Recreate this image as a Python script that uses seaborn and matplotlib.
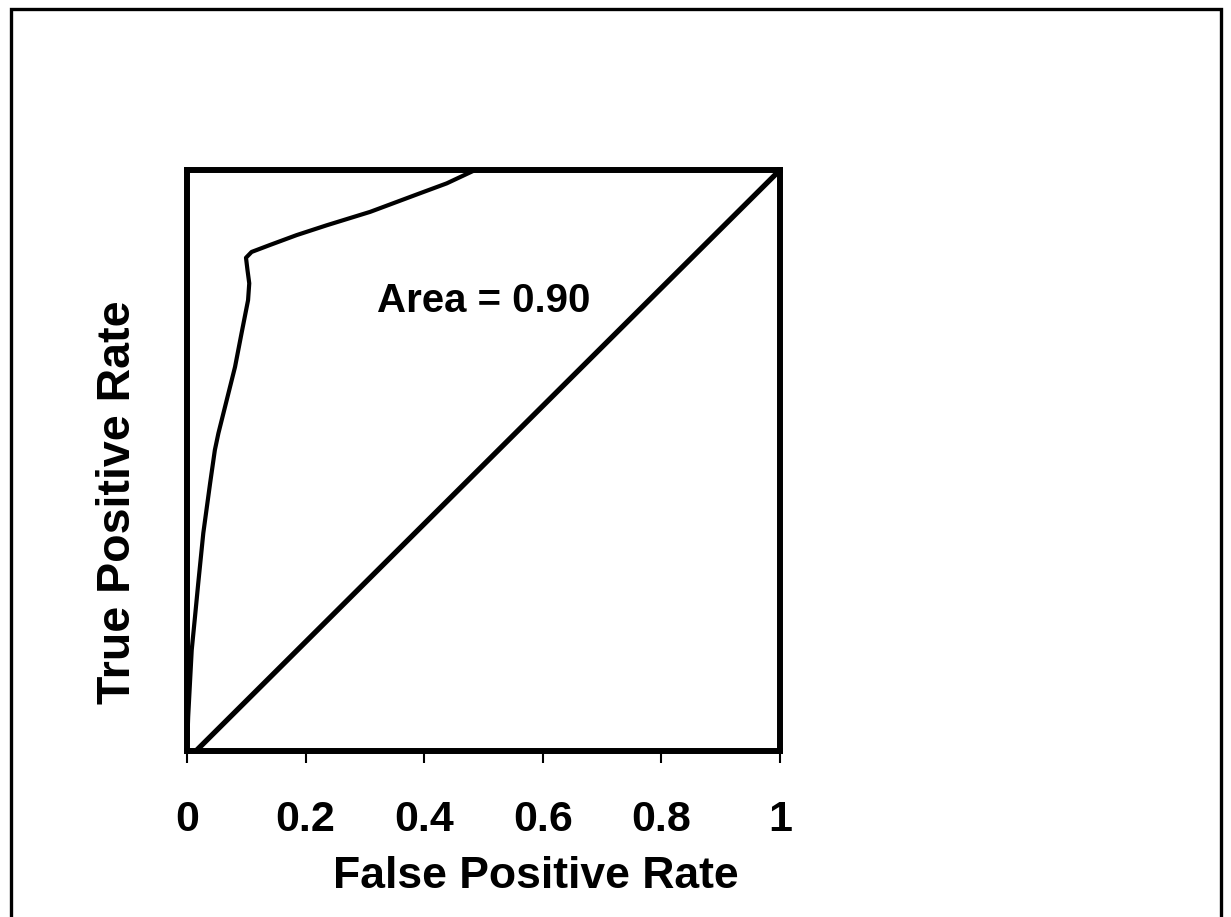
import matplotlib
matplotlib.use("Agg")
import matplotlib.pyplot as plt
import seaborn as sns
import pandas as pd
from matplotlib.patches import Rectangle

# ROC curve
fpr = [0.0, 0.002, 0.005, 0.008, 0.0135, 0.019, 0.0275, 0.039, 0.047, 0.053,
       0.067, 0.081, 0.092, 0.103, 0.105, 0.102, 0.0995, 0.109, 0.140, 0.185,
       0.236, 0.309, 0.393, 0.438, 0.486, 1.0]
tpr = [0.0, 0.059, 0.117, 0.174, 0.231, 0.289, 0.375, 0.461, 0.518, 0.547,
       0.604, 0.661, 0.719, 0.776, 0.805, 0.828, 0.849, 0.859, 0.871, 0.888,
       0.905, 0.928, 0.960, 0.977, 1.0, 1.0]

# chance (diagonal) line
diag_x = [0.015, 1.0]
diag_y = [0.0, 1.0]

xticks = [0, 0.2, 0.4, 0.6, 0.8, 1.0]
xtick_labels = ["0", "0.2", "0.4", "0.6", "0.8", "1"]
area_text = "Area = 0.90"

sns.set_theme(style="white")
plt.rcParams['font.family'] = ['Liberation Sans', 'DejaVu Sans']
plt.rcParams['font.weight'] = 'bold'
plt.rcParams['text.color'] = 'black'
plt.rcParams['axes.labelcolor'] = 'black'
plt.rcParams['xtick.color'] = 'black'
plt.rcParams['ytick.color'] = 'black'

fig = plt.figure(figsize=(12.31, 9.17), dpi=100)
ax = fig.add_axes([0.1519, 0.1810, 0.4817, 0.6336])

roc = pd.DataFrame({"fpr": fpr, "tpr": tpr})
dg = pd.DataFrame({"x": diag_x, "y": diag_y})
sns.lineplot(data=roc, x="fpr", y="tpr", sort=False, color="black", lw=3.0, ax=ax,
             solid_joinstyle="round")
sns.lineplot(data=dg, x="x", y="y", sort=False, color="black", lw=3.8, ax=ax)

ax.set_xlim(0, 1)
ax.set_ylim(0, 1)
ax.set_xticks(xticks)
ax.set_xticklabels(xtick_labels, fontsize=31, fontweight="bold", color="black")
ax.set_yticks([])
ax.tick_params(axis="x", direction="out", length=8.6, width=1.5, pad=27,
               bottom=True, color="black", labelcolor="black")

for s in ax.spines.values():
    s.set_visible(True)
    s.set_color("black")
    s.set_linewidth(4.3)

ax.set_xlabel("False Positive Rate", fontsize=32, fontweight="bold", color="black")
ax.xaxis.label.set_va("baseline")
ax.xaxis.set_label_coords(0.589, -0.236)
ax.set_ylabel("True Positive Rate", fontsize=33.5, fontweight="bold", color="black")
ax.yaxis.label.set_va("baseline")
ax.yaxis.set_label_coords(-0.0961, 0.4286)

ax.text(0.320, 0.756, area_text, fontsize=29, fontweight="bold", color="black",
        ha="left", va="baseline", transform=ax.transAxes)

# outer frame around the figure
fig.patches.append(Rectangle((0.009, -0.01), 0.983, 1.0, transform=fig.transFigure,
                             fill=False, edgecolor="black", lw=2.4))

fig.savefig("out.png", dpi=100)
